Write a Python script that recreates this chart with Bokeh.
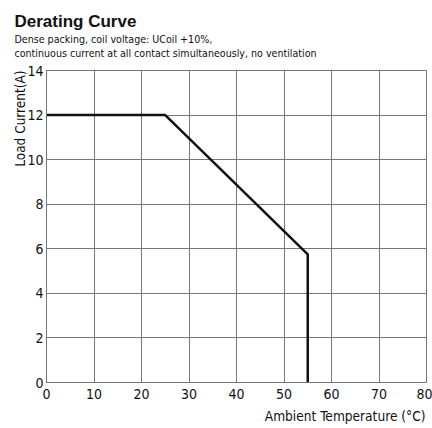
import math
from bokeh.plotting import figure
from bokeh.models import Title, FixedTicker
from bokeh.embed import file_html
from bokeh.resources import INLINE

# data
temp_c = [0, 25, 55, 55]
load_current_a = [12, 12, 5.75, 0]
x_ticks = [0, 10, 20, 30, 40, 50, 60, 70, 80]
y_ticks = [0, 2, 4, 6, 8, 10, 12, 14]
title_text = "Derating Curve"
subtitle_1 = "Dense packing, coil voltage: UCoil +10%,"
subtitle_2 = "continuous current at all contact simultaneously, no ventilation"
x_label = "Ambient Temperature (°C)"
y_label = "Load Current(A)"

FONT = "DejaVu Sans Condensed"
TITLE_FONT = "Liberation Sans"

p = figure(width=432, height=428, output_backend="svg", toolbar_location=None,
           x_range=(0, 80), y_range=(0, 14),
           min_border_left=46, min_border_right=6, min_border_top=70, min_border_bottom=45)
p.background_fill_color = "white"
p.border_fill_color = "white"
p.outline_line_color = "#777777"
p.outline_line_width = 1

for ax in (p.xaxis[0], p.yaxis[0]):
    ax.major_tick_out = 0
    ax.major_tick_in = 0
    ax.minor_tick_out = 0
    ax.minor_tick_in = 0
    ax.axis_line_color = "#777777"
    ax.major_label_text_font = FONT
    ax.major_label_text_font_size = "14px"
    ax.major_label_text_color = "#111111"

p.xaxis.ticker = FixedTicker(ticks=x_ticks)
p.yaxis.ticker = FixedTicker(ticks=y_ticks)
p.xaxis.major_label_standoff = 6
p.yaxis.major_label_standoff = 3

p.xgrid.ticker = FixedTicker(ticks=x_ticks)
p.ygrid.ticker = FixedTicker(ticks=y_ticks)
for g in (p.xgrid[0], p.ygrid[0]):
    g.grid_line_color = "#777777"
    g.grid_line_width = 1
    g.grid_line_alpha = 1.0

p.line(temp_c, load_current_a, line_color="#111111", line_width=2.5)

# axis titles as panel titles (right / top aligned)
p.add_layout(Title(text=x_label, text_font=FONT, text_font_size="13.6px",
                   text_font_style="normal", text_color="#111111",
                   align="right", offset=1, standoff=9), "below")
p.add_layout(Title(text=y_label, text_font=FONT, text_font_size="13.5px",
                   text_font_style="normal", text_color="#111111",
                   align="right", offset=0, standoff=-6), "left")

# header titles: first added sits closest to the frame
p.add_layout(Title(text=" ", text_font=FONT, text_font_size="2px",
                   standoff=8), "above")
p.add_layout(Title(text=subtitle_2, text_font=FONT, text_font_size="10.6px",
                   text_font_style="normal", text_color="#111111",
                   offset=-32, standoff=0), "above")
p.add_layout(Title(text=subtitle_1, text_font=FONT, text_font_size="10.6px",
                   text_font_style="normal", text_color="#111111",
                   offset=-32, standoff=0), "above")
p.add_layout(Title(text=title_text, text_font=TITLE_FONT, text_font_size="17px",
                   text_font_style="bold", text_color="#111111",
                   offset=-32, standoff=0), "above")

open("out.html", "w").write(file_html(p, INLINE))
